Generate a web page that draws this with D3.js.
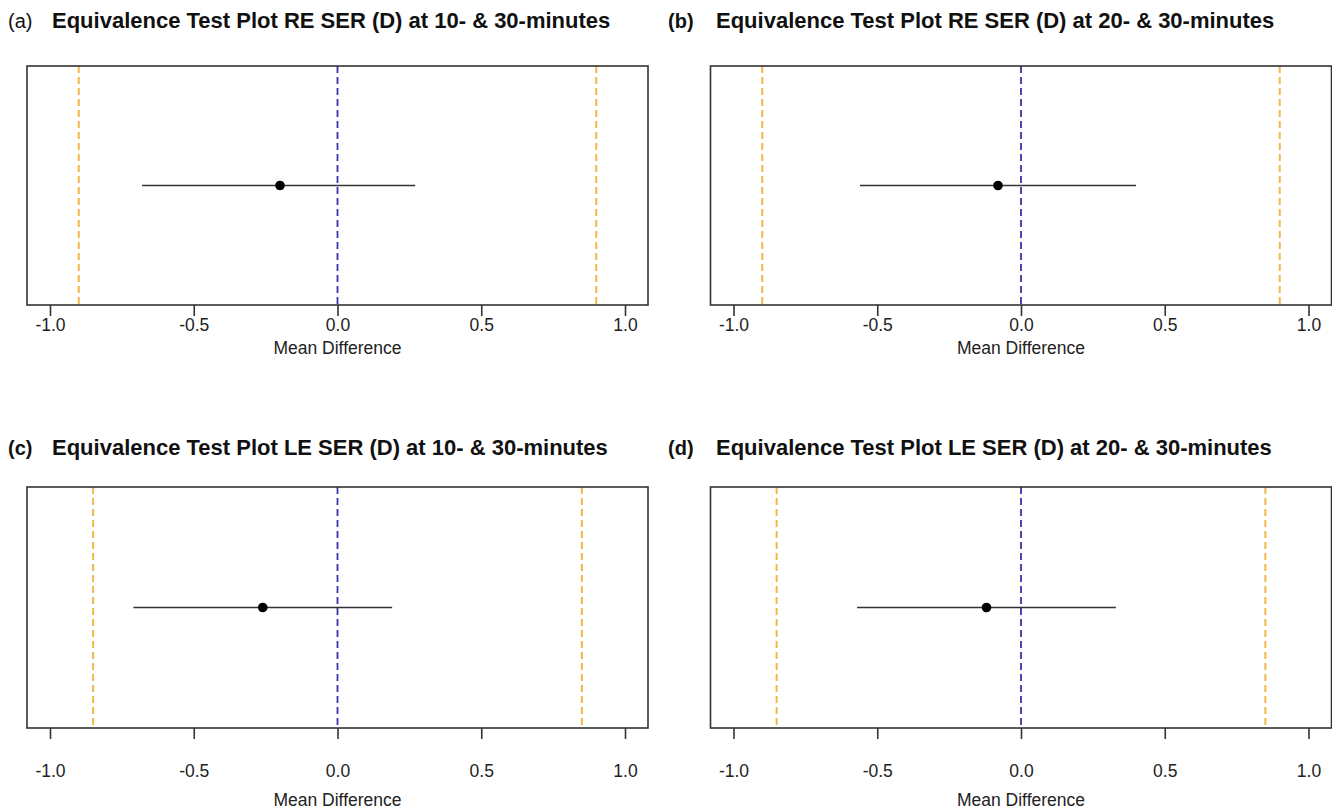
<!DOCTYPE html>
<html>
<head>
<meta charset="utf-8">
<script src="https://cdn.jsdelivr.net/npm/d3@7"></script>
<style>
  body { margin: 0; background: #fff; }
  text { font-family: "Liberation Sans", Arial, sans-serif; }
</style>
</head>
<body>
<div id="chart"></div>
<script>
// panel data
var panelTags = ["(a)", "(b)", "(c)", "(d)"];
var panelTitles = [
  "Equivalence Test Plot RE SER (D) at 10- & 30-minutes",
  "Equivalence Test Plot RE SER (D) at 20- & 30-minutes",
  "Equivalence Test Plot LE SER (D) at 10- & 30-minutes",
  "Equivalence Test Plot LE SER (D) at 20- & 30-minutes"
];
var meanDiff = [-0.20, -0.08, -0.26, -0.12];
var ciLower = [-0.68, -0.56, -0.71, -0.57];
var ciUpper = [0.27, 0.40, 0.19, 0.33];
var eqBound = [0.90, 0.90, 0.85, 0.85];
var xTicks = [-1.0, -0.5, 0.0, 0.5, 1.0];
var xLabel = "Mean Difference";

var W = 1332, H = 810;
var svg = d3.select("#chart").append("svg")
  .attr("width", W)
  .attr("height", H);

// layout of the 2x2 grid
var cols = [{ tagX: 8, titleX: 52, zero: 337.5 }, { tagX: 668, titleX: 716, zero: 1021 }];
var rows = [
  { titleY: 28, top: 66, bottom: 305, tickLab: 325, axTitle: 348 },
  { titleY: 455, top: 487, bottom: 728, tickLab: 771, axTitle: 800 }
];
var unit = 287.5;

panelTags.forEach(function(tag, i) {
  var c = cols[i % 2], r = rows[Math.floor(i / 2)];

  var x = d3.scaleLinear()
    .domain([-1.08, 1.08])
    .range([c.zero - 1.08 * unit, c.zero + 1.08 * unit]);
  var y = d3.scaleLinear()
    .domain([0, 1])
    .range([r.bottom, r.top]);

  var g = svg.append("g");

  // title
  g.append("text")
    .attr("x", c.tagX).attr("y", r.titleY)
    .attr("font-size", 20)
    .attr("font-weight", i == 0 ? "normal" : "bold")
    .attr("fill", "#111")
    .text(tag);
  g.append("text")
    .attr("x", c.titleX).attr("y", r.titleY)
    .attr("font-size", 22)
    .attr("font-weight", "bold")
    .attr("fill", "#111")
    .text(panelTitles[i]);

  // equivalence bounds
  g.selectAll(".bound")
    .data([-eqBound[i], eqBound[i]])
    .enter().append("line")
    .attr("x1", d => x(d)).attr("x2", d => x(d))
    .attr("y1", y(1)).attr("y2", y(0))
    .attr("stroke", "#F2B84B")
    .attr("stroke-width", 2)
    .attr("stroke-dasharray", "7,4");

  // zero line
  g.append("line")
    .attr("x1", x(0)).attr("x2", x(0))
    .attr("y1", y(1)).attr("y2", y(0))
    .attr("stroke", "#3535A8")
    .attr("stroke-width", 1.8)
    .attr("stroke-dasharray", "7,4");

  // confidence interval + mean
  g.append("line")
    .attr("x1", x(ciLower[i])).attr("x2", x(ciUpper[i]))
    .attr("y1", y(0.5)).attr("y2", y(0.5))
    .attr("stroke", "#333")
    .attr("stroke-width", 1.7);
  g.append("circle")
    .attr("cx", x(meanDiff[i])).attr("cy", y(0.5))
    .attr("r", 4.8)
    .attr("fill", "#000");

  // box
  g.append("rect")
    .attr("x", x(-1.08)).attr("y", r.top)
    .attr("width", x(1.08) - x(-1.08))
    .attr("height", r.bottom - r.top)
    .attr("fill", "none")
    .attr("stroke", "#333")
    .attr("stroke-width", 1.6);

  // x axis
  var xAxis = d3.axisBottom(x)
    .tickValues(xTicks)
    .tickFormat(d3.format(".1f"))
    .tickSize(11)
    .tickSizeOuter(0);
  var ax = g.append("g")
    .attr("transform", "translate(0," + r.bottom + ")")
    .call(xAxis);
  ax.select(".domain").remove();
  ax.selectAll(".tick line").attr("stroke", "#333").attr("stroke-width", 1.6);
  ax.selectAll(".tick text")
    .attr("y", r.tickLab - r.bottom)
    .attr("dy", "0.35em")
    .attr("font-size", 17.5)
    .attr("font-family", "Liberation Sans, Arial, sans-serif")
    .attr("fill", "#222")
    .text(d => d3.format(".1f")(d).replace("−", "-"));

  g.append("text")
    .attr("x", x(0)).attr("y", r.axTitle)
    .attr("dy", "0.35em")
    .attr("text-anchor", "middle")
    .attr("font-size", 17.5)
    .attr("fill", "#222")
    .text(xLabel);
});
</script>
</body>
</html>
